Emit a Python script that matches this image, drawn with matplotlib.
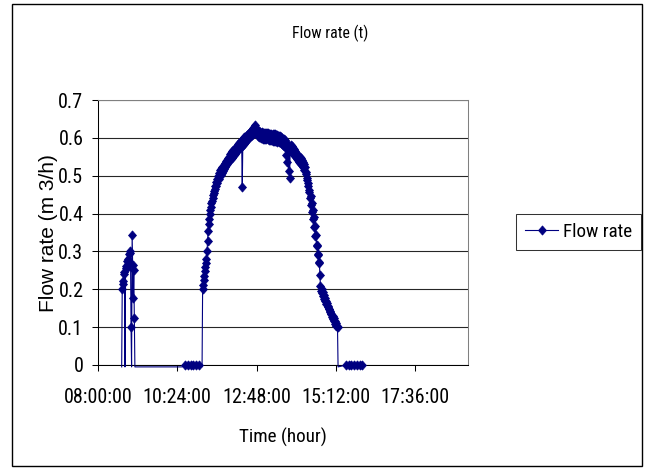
import numpy as np
import matplotlib
matplotlib.use("Agg")
import matplotlib.pyplot as plt
from matplotlib import font_manager
from matplotlib.font_manager import FontProperties
from matplotlib.ticker import FixedLocator, FixedFormatter
from matplotlib.lines import Line2D
from matplotlib.patches import Rectangle
from matplotlib.path import Path
import os

# ---------------- data ----------------
morning_times = ["8:43", "8:44", "8:45", "8:46", "8:47", "8:48", "8:49", "8:50",
                 "8:51", "8:52", "8:53", "8:54", "8:55", "8:56", "8:57", "8:58",
                 "8:59", "9:00", "9:01", "9:02", "9:03", "9:04", "9:05", "9:06", "9:07"]
morning_flow = [-0.005, 0.200, 0.214, 0.222, 0.240, 0.246, -0.005, 0.255,
                0.262, 0.274, 0.256, 0.280, 0.268, 0.292, 0.272, 0.296,
                0.302, 0.101, -0.005, 0.343, 0.265, 0.177, 0.250, 0.123, -0.005]

idle_am_times = ["10:33", "10:38", "10:43", "10:48", "10:53", "10:58", "11:03", "11:09"]
idle_am_flow = [-0.005, 0, 0, 0, 0, 0, 0, -0.005]

main_start = "11:10"
main_step_min = 1
main_flow = [
    0.200, 0.212, 0.224, 0.236, 0.248, 0.258, 0.270, 0.281, 0.300, 0.328,
    0.355, 0.372, 0.385, 0.398, 0.410, 0.418, 0.427, 0.433, 0.441, 0.450,
    0.460, 0.455, 0.473, 0.464, 0.483, 0.473, 0.492, 0.482, 0.500, 0.491,
    0.508, 0.498, 0.514, 0.503, 0.519, 0.508, 0.524, 0.513, 0.528, 0.518,
    0.533, 0.523, 0.538, 0.527, 0.542, 0.531, 0.546, 0.535, 0.550, 0.545,
    0.557, 0.544, 0.560, 0.548, 0.564, 0.551, 0.567, 0.554, 0.570, 0.558,
    0.576, 0.562, 0.579, 0.566, 0.583, 0.570, 0.586, 0.573, 0.589, 0.576,
    0.592, 0.579, 0.470, 0.582, 0.598, 0.585, 0.601, 0.588, 0.604, 0.592,
    0.607, 0.595, 0.610, 0.598, 0.613, 0.601, 0.616, 0.604, 0.619, 0.607,
    0.622, 0.611, 0.625, 0.615, 0.628, 0.634, 0.624, 0.626, 0.613, 0.620,
    0.606, 0.619, 0.603, 0.617, 0.601, 0.616, 0.600, 0.615, 0.599, 0.614,
    0.598, 0.614, 0.597, 0.613, 0.597, 0.613, 0.596, 0.612, 0.596, 0.612,
    0.595, 0.611, 0.595, 0.611, 0.594, 0.610, 0.594, 0.610, 0.593, 0.609,
    0.593, 0.609, 0.592, 0.608, 0.591, 0.607, 0.590, 0.606, 0.589, 0.605,
    0.588, 0.604, 0.586, 0.602, 0.584, 0.600, 0.582, 0.598, 0.578, 0.594,
    0.575, 0.590, 0.555, 0.580, 0.535, 0.572, 0.512, 0.565, 0.493, 0.568,
    0.580, 0.566, 0.578, 0.562, 0.574, 0.558, 0.570, 0.553, 0.566, 0.549,
    0.561, 0.545, 0.557, 0.541, 0.553, 0.537, 0.549, 0.533, 0.546, 0.530,
    0.542, 0.530, 0.537, 0.524, 0.531, 0.516, 0.522, 0.504, 0.510, 0.490,
    0.494, 0.474, 0.480, 0.457, 0.463, 0.440, 0.446, 0.423, 0.428, 0.404,
    0.410, 0.386, 0.390, 0.364, 0.368, 0.340, 0.344, 0.315, 0.318, 0.292,
    0.290, 0.272, 0.270, 0.238, 0.208, 0.196, 0.200, 0.189, 0.192, 0.182,
    0.184, 0.175, 0.177, 0.168, 0.170, 0.161, 0.163, 0.154, 0.156, 0.147,
    0.149, 0.141, 0.142, 0.134, 0.136, 0.128, 0.129, 0.121, 0.123, 0.115,
    0.116, 0.109, 0.110, 0.103, 0.104, 0.100,
]

idle_pm_times = ["15:16", "15:31", "15:35", "15:40", "15:45", "15:50", "15:55", "16:00"]
idle_pm_flow = [-0.005, 0, 0, 0, 0, 0, 0, 0]

x_tick_labels = ["08:00:00", "10:24:00", "12:48:00", "15:12:00", "17:36:00"]
x_axis_max = "19:12:00"
y_ticks = [0, 0.1, 0.2, 0.3, 0.4, 0.5, 0.6, 0.7]
y_tick_labels = ["0", "0.1", "0.2", "0.3", "0.4", "0.5", "0.6", "0.7"]

title = "Flow rate (t)"
x_label = "Time (hour)"
y_label = "Flow rate (m 3/h)"
series_name = "Flow rate"


def to_hours(s):
    parts = [int(p) for p in s.split(":")]
    h = parts[0] + parts[1] / 60.0
    if len(parts) > 2:
        h += parts[2] / 3600.0
    return h


main_times = to_hours(main_start) + np.arange(len(main_flow)) * main_step_min / 60.0
t = np.concatenate([
    [to_hours(s) for s in morning_times],
    [to_hours(s) for s in idle_am_times],
    main_times,
    [to_hours(s) for s in idle_pm_times],
])
v = np.concatenate([morning_flow, idle_am_flow, main_flow, idle_pm_flow])
has_marker = v >= 0


# ---------------- fonts ----------------
def find_condensed():
    prefs = ["Liberation Sans Narrow", "Arial Narrow", "Roboto Condensed",
             "Open Sans Condensed", "Noto Sans", "Open Sans", "DejaVu Sans",
             "Roboto", "Inter", "Lato"]
    for p in prefs:
        for f in font_manager.fontManager.ttflist:
            if f.name != p or f.style != "normal":
                continue
            w = f.weight
            if not isinstance(w, int):
                w = font_manager.weight_dict.get(w, 400)
            if w != 400:
                continue
            base = os.path.basename(f.fname).lower()
            cond = ("Narrow" in p or "Condensed" in p
                    or str(f.stretch) in ("condensed", "semi-condensed")
                    or "condensed" in base or "narrow" in base)
            if cond and "semi" not in base and "extra" not in base and "ultra" not in base:
                return f.fname
    return None


cond_file = find_condensed()


def fp(size):
    if cond_file:
        return FontProperties(fname=cond_file, size=size)
    return FontProperties(family=["Liberation Sans", "DejaVu Sans"], size=size)


W, H = 650, 474
fig = plt.figure(figsize=(W / 100, H / 100), dpi=100)
fig.patch.set_facecolor("white")
renderer = fig.canvas.get_renderer()


def fit(s, target_px):
    tt = fig.text(0, 0, s, fontproperties=fp(10))
    w = tt.get_window_extent(renderer).width
    tt.remove()
    return 10.0 * target_px / w


tick_size = fit("08:00:00", 68)
xlab_size = fit(x_label, 88)
leg_size = fit(series_name, 69)
title_size = fit(title, 76)

NAVY = "#000080"
regular = ["Liberation Sans", "DejaVu Sans"]

# outer chart frame
fig.add_artist(Rectangle((12 / W, 1 - 466 / H), 630 / W, 462 / H,
                         transform=fig.transFigure, fill=False,
                         edgecolor="black", lw=1.0))

ax = fig.add_axes([98 / W, 1 - 365 / H, 370 / W, 265 / H])

diamond = Path([(0, 1), (0.87, 0), (0, -1), (-0.87, 0), (0, 1)],
               [Path.MOVETO, Path.LINETO, Path.LINETO, Path.LINETO, Path.CLOSEPOLY])
MS, MEW = 6.5, 0.6

ax.plot(t, v, color=NAVY, lw=0.8, clip_on=False, zorder=3)
ax.plot(t[has_marker], v[has_marker], linestyle="none", marker=diamond,
        ms=MS, mew=MEW, mfc=NAVY, mec=NAVY, clip_on=False, zorder=4)

x_ticks = [to_hours(s) for s in x_tick_labels]
ax.set_xlim(x_ticks[0], to_hours(x_axis_max))
ax.set_ylim(y_ticks[0], y_ticks[-1])
ax.xaxis.set_major_locator(FixedLocator(x_ticks))
ax.xaxis.set_major_formatter(FixedFormatter(x_tick_labels))
ax.yaxis.set_major_locator(FixedLocator(y_ticks))
ax.yaxis.set_major_formatter(FixedFormatter(y_tick_labels))

ax.yaxis.grid(True, color="#262626", lw=0.8)
ax.set_axisbelow(True)
ax.tick_params(axis="both", direction="out", length=4.5, width=0.75,
               color="black", labelcolor="black")
ax.tick_params(axis="x", pad=12)
ax.tick_params(axis="y", pad=6)
for lab in ax.get_xticklabels() + ax.get_yticklabels():
    lab.set_fontproperties(fp(tick_size))

for side in ("left", "bottom"):
    ax.spines[side].set_color("black")
    ax.spines[side].set_linewidth(0.75)
for side in ("top", "right"):
    ax.spines[side].set_color("#808080")
    ax.spines[side].set_linewidth(0.75)

fig.text(330 / W, 1 - 33 / H, title, ha="center", va="center",
         fontproperties=fp(title_size))
fig.text(283 / W, 1 - 437 / H, x_label, ha="center", va="center",
         fontproperties=fp(xlab_size))
fig.text(48 / W, 1 - 233 / H, y_label, ha="center", va="center", rotation=90,
         fontsize=15, family=regular)

proxy = Line2D([], [], color=NAVY, lw=0.8, marker=diamond, ms=MS, mew=MEW,
               mfc=NAVY, mec=NAVY)
leg = fig.legend([proxy], [series_name], loc="center",
                 bbox_to_anchor=(578.5 / W, 1 - 232 / H), frameon=True,
                 fancybox=False, shadow=False, prop=fp(leg_size), numpoints=1,
                 handlelength=1.75, handletextpad=0.25, borderpad=0.45,
                 borderaxespad=0)
leg.get_frame().set_edgecolor("black")
leg.get_frame().set_linewidth(0.75)

fig.savefig("out.png", dpi=100)
